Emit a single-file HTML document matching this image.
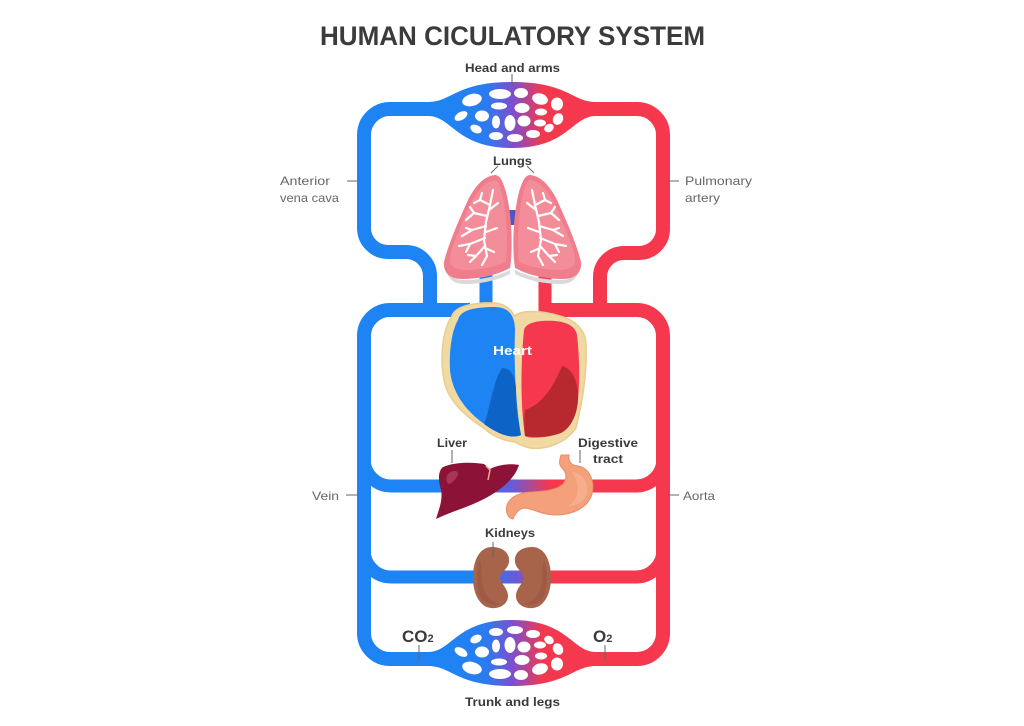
<!DOCTYPE html>
<html><head><meta charset="utf-8"><style>
html,body{margin:0;padding:0;background:#fff;}
svg{display:block;}
text{font-family:"Liberation Sans",sans-serif;}
</style></head><body>
<svg width="1024" height="726" viewBox="0 0 1024 726" xmlns="http://www.w3.org/2000/svg">
<defs>
<linearGradient id="gTop" gradientUnits="userSpaceOnUse" x1="445" y1="0" x2="580" y2="0">
<stop offset="0" stop-color="#1e84f4"/><stop offset="0.3" stop-color="#2a7cf0"/><stop offset="0.5" stop-color="#7d4fcf"/><stop offset="0.72" stop-color="#f2384f"/><stop offset="1" stop-color="#f5384d"/>
</linearGradient>
<linearGradient id="gLiv" gradientUnits="userSpaceOnUse" x1="475" y1="0" x2="550" y2="0">
<stop offset="0" stop-color="#1e84f4"/><stop offset="0.5" stop-color="#6a5ad6"/><stop offset="1" stop-color="#f5384d"/>
</linearGradient>
<linearGradient id="gKid" gradientUnits="userSpaceOnUse" x1="480" y1="0" x2="552" y2="0">
<stop offset="0" stop-color="#1e84f4"/><stop offset="0.5" stop-color="#6a5ad6"/><stop offset="1" stop-color="#f5384d"/>
</linearGradient>
<g id="blob">
<path d="M 428 102 C 452 102, 456 82, 512 82 C 568 82, 572 102, 596 102 L 596 116 C 572 116, 568 148, 512 148 C 456 148, 452 116, 428 116 Z" fill="url(#gTop)"/>
<g fill="#fff">
<ellipse cx="472" cy="100" rx="10" ry="6" transform="rotate(-15 472 100)"/>
<ellipse cx="500" cy="94" rx="11" ry="5"/>
<ellipse cx="521" cy="93" rx="7" ry="5"/>
<ellipse cx="540" cy="99" rx="8" ry="5.5" transform="rotate(15 540 99)"/>
<ellipse cx="557" cy="104" rx="6" ry="6.5"/>
<ellipse cx="461" cy="116" rx="7" ry="4" transform="rotate(-30 461 116)"/>
<ellipse cx="482" cy="116" rx="7" ry="5.5"/>
<ellipse cx="499" cy="106" rx="8" ry="3.5"/>
<ellipse cx="522" cy="108" rx="7.5" ry="5"/>
<ellipse cx="541" cy="112" rx="6" ry="3.5"/>
<ellipse cx="558" cy="119" rx="5" ry="6" transform="rotate(30 558 119)"/>
<ellipse cx="496" cy="122" rx="4" ry="6.5"/>
<ellipse cx="510" cy="123" rx="5.5" ry="8"/>
<ellipse cx="524" cy="121" rx="6.5" ry="5.5"/>
<ellipse cx="540" cy="123" rx="6" ry="3.5"/>
<ellipse cx="476" cy="129" rx="6" ry="4" transform="rotate(25 476 129)"/>
<ellipse cx="496" cy="136" rx="7" ry="4"/>
<ellipse cx="515" cy="138" rx="8" ry="4"/>
<ellipse cx="533" cy="134" rx="7" ry="4"/>
<ellipse cx="549" cy="128" rx="5" ry="4" transform="rotate(-30 549 128)"/>
</g>
</g>
<g id="lung">
<path d="M 447 262 C 445 272, 452 280, 464 280 C 480 280, 496 277, 510 270 L 510 274 C 496 281, 480 284, 464 284 C 452 284, 444 276, 447 262 Z" fill="#d9d9d9"/>
<path d="M 495 175 C 484 176, 475 186, 468 200 C 458 222, 448 245, 444 262 C 443 273, 450 279, 462 279 C 478 279, 495 276, 510 268 C 513 250, 512 215, 506 192 C 503 182, 500 175, 495 175 Z" fill="#f07d8b"/>
<path d="M 495 180 C 486 181, 478 190, 471 203 C 462 224, 452 244, 450 258 C 449 266, 455 270, 465 270 C 480 270, 495 267, 506 262 C 508 245, 507 215, 502 194 C 500 186, 498 180, 495 180 Z" fill="#f38d99"/>
<g stroke="#fff" stroke-width="2.2" stroke-linecap="round" fill="none">
<path d="M 493 190 L 490 205 L 486 222 L 484 240 L 487 256"/>
<path d="M 490 205 L 480 200 L 474 203"/>
<path d="M 480 200 L 482 193"/>
<path d="M 487 216 L 474 213 L 466 220"/>
<path d="M 474 213 L 470 207"/>
<path d="M 486 226 L 472 230 L 462 236"/>
<path d="M 472 230 L 466 228"/>
<path d="M 485 238 L 470 244 L 459 246"/>
<path d="M 470 244 L 466 252"/>
<path d="M 485 246 L 476 256 L 470 262"/>
<path d="M 476 256 L 468 255"/>
<path d="M 487 256 L 482 265"/>
<path d="M 489 210 L 498 203"/>
<path d="M 486 232 L 497 228"/>
<path d="M 485 248 L 494 252"/>
</g>
</g>
<g id="kidney">
<path d="M 492 547 C 503 547, 510 553, 509 562 C 508 569, 501 572, 500 577 C 500 583, 508 588, 508 596 C 508 604, 500 609, 491 608 C 480 607, 473 594, 473 578 C 473 561, 479 547, 492 547 Z" fill="#a8634b"/>
<path d="M 480 560 C 476 570, 476 588, 481 598 C 486 604, 494 606, 500 604 C 490 602, 484 594, 482 582 C 481 572, 482 565, 480 560 Z" fill="#93523d" opacity="0.5"/>
</g>
</defs>

<text x="320" y="45" font-size="27" font-weight="bold" fill="#3b3b3b" textLength="385" lengthAdjust="spacingAndGlyphs">HUMAN CICULATORY SYSTEM</text>

<g fill="none" stroke-width="14">
<path d="M 440 109 L 390 109 A 26 26 0 0 0 364 135 L 364 228 A 24 24 0 0 0 388 252 L 406 252 A 24 24 0 0 1 430 276 L 430 314" stroke="#1e84f4"/>
<path d="M 470 310 L 390 310 A 26 26 0 0 0 364 336 L 364 633 A 26 26 0 0 0 390 659 L 440 659" stroke="#1e84f4"/>
<path d="M 584 109 L 637 109 A 26 26 0 0 1 663 135 L 663 229 A 24 24 0 0 1 639 253 L 624 253 A 24 24 0 0 0 600 277 L 600 314" stroke="#f5384d"/>
<path d="M 545 310 L 637 310 A 26 26 0 0 1 663 336 L 663 633 A 26 26 0 0 1 637 659 L 584 659" stroke="#f5384d"/>
<path d="M 364 459 A 27 27 0 0 0 391 486 L 636 486 A 27 27 0 0 0 663 459" stroke="url(#gLiv)" stroke-width="13"/>
<path d="M 364 550 A 27 27 0 0 0 391 577 L 636 577 A 27 27 0 0 0 663 550" stroke="url(#gKid)" stroke-width="13"/>
<path d="M 486 262 L 486 318" stroke="#1e84f4" stroke-width="13"/>
<path d="M 545 262 L 545 324" stroke="#f5384d" stroke-width="13"/>
</g>
<rect x="508" y="210" width="9" height="15" fill="#4c56c4"/>

<use href="#blob"/>
<use href="#blob" transform="translate(0,768) scale(1,-1)"/>

<use href="#lung"/>
<use href="#lung" transform="translate(1025,0) scale(-1,1)"/>

<path d="M 452 316 C 455 306, 475 302, 495 303 C 505 304, 512 310, 514 316 C 522 310, 540 310, 560 316 C 575 320, 586 330, 586 345 C 587 370, 583 400, 576 428 C 566 443, 546 450, 530 448 C 522 446, 518 444, 515 442 C 505 441, 492 436, 485 429 C 465 416, 448 401, 444 380 C 440 360, 442 330, 452 316 Z" fill="#f1d9a3" stroke="#e9cc8f" stroke-width="1.5"/>
<path d="M 458 320 C 460 310, 475 307, 495 307 C 508 307, 515 315, 515 330 C 514 360, 515 400, 521 435 C 510 440, 495 432, 483 423 C 465 410, 452 392, 450 370 C 449 350, 452 330, 458 320 Z" fill="#1e84f4"/>
<path d="M 502 368 C 511 368, 515 376, 516 388 C 516 407, 518 421, 521 435 C 510 440, 495 432, 484 424 C 490 410, 492 384, 502 368 Z" fill="#0e63c6"/>
<path d="M 524 330 C 526 322, 540 320, 555 321 C 565 322, 575 325, 577 335 C 580 360, 580 395, 576 412 C 572 425, 560 435, 545 437 C 535 438, 528 438, 525 436 C 521 410, 520 370, 524 330 Z" fill="#f5384d"/>
<path d="M 562 366 C 572 368, 579 382, 578 400 C 577 415, 571 428, 561 433 C 551 437, 536 438, 525 436 C 524 426, 524 416, 525 410 C 541 405, 553 388, 562 366 Z" fill="#b8292f"/>
<text x="493" y="355" font-size="13" font-weight="bold" fill="#fff" textLength="39" lengthAdjust="spacingAndGlyphs">Heart</text>

<path d="M 443 467 C 455 462, 472 462, 484 464 L 490 469 C 498 465, 510 463, 519 465 C 515 478, 502 490, 482 500 C 466 508, 450 512, 436 519 C 439 509, 443 500, 441 490 C 438 480, 438 471, 443 467 Z" fill="#8c1238"/>
<path d="M 448 474 C 452 470, 458 470, 458 474 C 456 480, 451 484, 448 484 C 446 481, 446 477, 448 474 Z" fill="#b0405f" opacity="0.8"/>
<path d="M 486 466 L 490 470 L 488 480" stroke="#e8b08a" stroke-width="1.5" fill="none"/>

<path d="M 561 455 L 569 455 C 568 462, 572 466, 578 466 C 590 468, 595 482, 592 494 C 588 508, 572 515, 555 515 C 542 515, 532 508, 524 508 C 518 509, 515 514, 513 519 C 508 518, 505 512, 507 505 C 510 497, 520 492, 532 492 C 545 491, 557 490, 563 484 C 568 478, 566 472, 562 468 C 558 464, 560 459, 561 455 Z" fill="#f4a07b" stroke="#e88c66" stroke-width="1"/>
<path d="M 572 472 C 585 474, 590 486, 586 496 C 583 503, 575 506, 568 506 C 578 500, 582 488, 572 472 Z" fill="#f8b796" opacity="0.6"/>

<use href="#kidney"/>
<use href="#kidney" transform="translate(1024,0) scale(-1,1)"/>

<g stroke="#666" stroke-width="1" fill="none">
<path d="M 512 74 L 512 86"/>
<path d="M 498 166 L 491 173"/>
<path d="M 527 166 L 534 173"/>
<path d="M 347 181 L 358 181"/>
<path d="M 668 181 L 679 181"/>
<path d="M 346 495 L 358 495"/>
<path d="M 668 495 L 679 495"/>
<path d="M 452 450 L 452 463"/>
<path d="M 580 450 L 580 463"/>
<path d="M 493 542 L 493 558"/>
<path d="M 419 645 L 419 662"/>
<path d="M 605 645 L 605 662"/>
</g>

<g font-weight="bold" fill="#3a3a3a" font-size="12">
<text x="465" y="72" textLength="95" lengthAdjust="spacingAndGlyphs">Head and arms</text>
<text x="493" y="165" textLength="39" lengthAdjust="spacingAndGlyphs">Lungs</text>
<text x="437" y="447" textLength="30" lengthAdjust="spacingAndGlyphs">Liver</text>
<text x="578" y="447" textLength="60" lengthAdjust="spacingAndGlyphs">Digestive</text>
<text x="593" y="463" textLength="30" lengthAdjust="spacingAndGlyphs">tract</text>
<text x="485" y="537" textLength="50" lengthAdjust="spacingAndGlyphs">Kidneys</text>
<text x="465" y="706" textLength="95" lengthAdjust="spacingAndGlyphs">Trunk and legs</text>
<text x="402" y="642" font-size="17">CO<tspan font-size="11">2</tspan></text>
<text x="593" y="642" font-size="17">O<tspan font-size="11">2</tspan></text>
</g>
<g fill="#666" font-size="12">
<text x="280" y="185" textLength="50" lengthAdjust="spacingAndGlyphs">Anterior</text>
<text x="280" y="202" textLength="59" lengthAdjust="spacingAndGlyphs">vena cava</text>
<text x="685" y="185" textLength="67" lengthAdjust="spacingAndGlyphs">Pulmonary</text>
<text x="685" y="202" textLength="35" lengthAdjust="spacingAndGlyphs">artery</text>
<text x="312" y="500" textLength="27" lengthAdjust="spacingAndGlyphs">Vein</text>
<text x="683" y="500" textLength="32" lengthAdjust="spacingAndGlyphs">Aorta</text>
</g>
</svg>
</body></html>
